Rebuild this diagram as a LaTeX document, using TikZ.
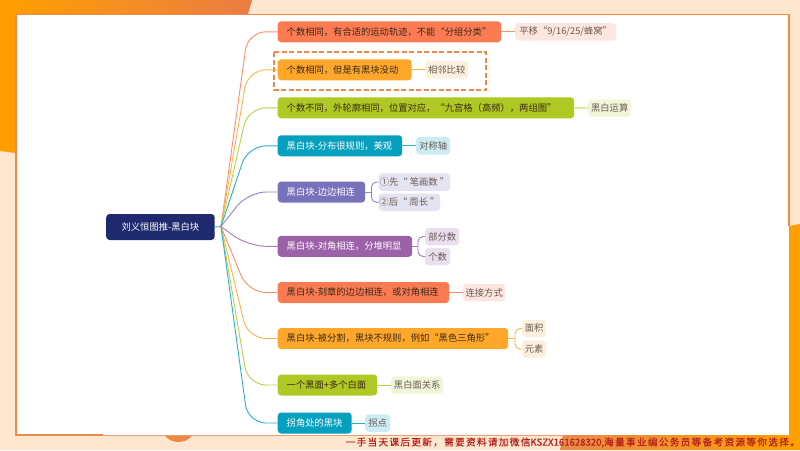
\documentclass[tikz,border=0pt]{standalone}
\usepackage{fontspec}
\setmainfont{Noto Sans CJK SC}
\newfontfamily\bannerfont[LetterSpace=14,FakeBold=0.3]{Noto Sans CJK SC}
\newfontfamily\bannerlatin[FakeBold=0.3]{Noto Sans CJK SC}
\usetikzlibrary{calc}

\definecolor{peach}{HTML}{FFE6CE}
\definecolor{edgeorange}{HTML}{EA8A4C}
\definecolor{navy}{HTML}{1F2A6E}
\definecolor{coral}{HTML}{FC7B52}
\definecolor{amber}{HTML}{FFA72B}
\definecolor{lime}{HTML}{AFC823}
\definecolor{teal}{HTML}{05A0BE}
\definecolor{iris}{HTML}{7872BB}
\definecolor{plum}{HTML}{9C62A8}
\definecolor{coralpale}{HTML}{FDE6DF}
\definecolor{amberpale}{HTML}{FDF0DE}
\definecolor{limepale}{HTML}{F1F6DA}
\definecolor{tealpale}{HTML}{CCECF3}
\definecolor{irispale}{HTML}{E4E3F1}
\definecolor{plumpale}{HTML}{EADFEE}
\definecolor{inkdark}{HTML}{3A2A18}
\definecolor{inkmuted}{HTML}{6A5A52}
\definecolor{bannerred}{HTML}{B5201A}

\tikzset{
  rootbox/.style={fill=navy, text=white, rounded corners=3.5pt, minimum height=26pt, inner sep=0pt, anchor=west},
  mainbox/.style={rounded corners=3.5pt, minimum height=21pt, inner ysep=0pt, inner xsep=9pt, align=left, anchor=west},
  subbox/.style={text=inkmuted, rounded corners=3.5pt, minimum height=17.5pt, inner sep=0pt, anchor=west},
  link/.style={line width=.9pt},
  hublink/.style={link, rounded corners=18pt},
  bracket/.style={link, rounded corners=5pt},
}

\begin{document}
\begin{tikzpicture}[x=1pt,y=-1pt,font=\fontsize{9.3}{11}\selectfont]
  \useasboundingbox (0,0) rectangle (800,450);

  % slide background
  \fill[peach] (0,0) rectangle (800,450);
  \shade[left color=orange!75!yellow, right color=edgeorange!90!red] (0,0) -- (252,0) -- (248,14) -- (16,14) -- (16,153) -- (0,151) -- cycle;
  \shade[left color=edgeorange, right color=orange!75!yellow] (560,450) -- (563,435) -- (633,435) -- (633,433) -- (789,433) -- (789,226) -- (800,224) -- (800,450) -- cycle;
  \fill[edgeorange!90!orange] (178.5,424) circle (18);

  % white panel
  \fill[white] (16,14.5) rectangle (789,435);
  \draw[edgeorange, line width=1.6pt] (103,435) -- (16,435) -- (16,14.5) -- (789,14.5) -- (789,226);
  \draw[edgeorange!80, line width=.8pt] (103,435) -- (563,435);

  % root
  \node[rootbox, minimum width=108.5pt] (root) at (106,227) {刘义恒图推-黑白块};
  \coordinate (hub) at (221,226.5);
  \coordinate (bend) at (248,226.5);

  % first level
  \node[mainbox, fill=coral, text=inkdark, text width=205.5pt] (n1) at (277.5,31.8) {个数相同，有合适的运动轨迹，不能“分组分类”};
  \node[mainbox, fill=amber, text=inkdark, text width=116pt] (n2) at (277.5,69.8) {个数相同，但是有黑块没动};
  \node[mainbox, fill=lime, text=inkdark, text width=278.5pt] (n3) at (277.5,107.8) {个数不同，外轮廓相同，位置对应，“九宫格（高频），两组图”};
  \node[mainbox, fill=teal, text=white, text width=106.5pt] (n4) at (277.5,145.8) {黑白块-分布很规则，美观};
  \node[mainbox, fill=iris, text=white, text width=69.5pt] (n5) at (277.5,192) {黑白块-边边相连};
  \node[mainbox, fill=plum, text=white, text width=116.5pt] (n6) at (277.5,246.3) {黑白块-对角相连，分堆明显};
  \node[mainbox, fill=coral, text=inkdark, text width=153.5pt] (n7) at (277.5,292.5) {黑白块-刻章的边边相连，或对角相连};
  \node[mainbox, fill=amber, text=inkdark, text width=212.5pt] (n8) at (277.5,338.5) {黑白块-被分割，黑块不规则，例如“黑色三角形”};
  \node[mainbox, fill=lime, text=inkdark, text width=81.5pt] (n9) at (277.5,385) {一个黑面+多个白面};
  \node[mainbox, fill=teal, text=white, text width=56pt] (n10) at (277.5,423) {拐角处的黑块};

  % second level
  \node[subbox, fill=coralpale, minimum width=101pt] (s1) at (515,31.8) {平移“9/16/25/蜂窝”};
  \node[subbox, fill=amberpale, minimum width=43pt] (s2) at (425,69.8) {相邻比较};
  \node[subbox, fill=limepale, minimum width=43pt] (s3) at (588,108) {黑白运算};
  \node[subbox, fill=tealpale, minimum width=34pt] (s4) at (416,145.8) {对称轴};
  \node[subbox, fill=irispale, minimum width=71.5pt] (s5a) at (378.5,182) {①先“ 笔画数 ”};
  \node[subbox, fill=irispale, minimum width=61.5pt] (s5b) at (378.5,202.3) {②后“ 周长 ”};
  \node[subbox, fill=plumpale, minimum width=34pt] (s6a) at (425,236.5) {部分数};
  \node[subbox, fill=plumpale, minimum width=25pt] (s6b) at (425,256.5) {个数};
  \node[subbox, fill=coralpale, minimum width=42pt] (s7) at (463,292.5) {连接方式};
  \node[subbox, fill=amberpale, minimum width=24pt] (s8a) at (522,328.5) {面积};
  \node[subbox, fill=amberpale, minimum width=24pt] (s8b) at (522,349) {元素};
  \node[subbox, fill=limepale, minimum width=52pt] (s9) at (391,385) {黑白面关系};
  \node[subbox, fill=tealpale, minimum width=25pt] (s10) at (365,423) {拐点};

  % root to first level
  \foreach \nd/\col in {n1/coral,n2/amber,n3/lime,n4/teal,n5/iris,n6/plum,n7/coral,n8/amber,n9/lime,n10/teal} {
    \draw[hublink, \col!85] (hub) -- (bend |- \nd.west) -- (\nd.west);
  }
  \draw[link, teal!85] (root.east) -- (hub);

  % first level to second level
  \foreach \nd/\sb/\col in {n1/s1/coral,n2/s2/amber,n3/s3/lime,n4/s4/teal,n7/s7/coral,n9/s9/lime,n10/s10/teal} {
    \draw[link, \col!85] (\nd.east) -- (\sb.west);
  }

  % forks
  \coordinate (j5) at (371.5,192);
  \draw[link, iris!85] (n5.east) -- (j5);
  \draw[bracket, iris!85] (s5a.west) -- (j5 |- s5a.west) -- (j5 |- s5b.west) -- (s5b.west);
  \coordinate (j6) at (418,246.3);
  \draw[link, plum!85] (n6.east) -- (j6);
  \draw[bracket, plum!85] (s6a.west) -- (j6 |- s6a.west) -- (j6 |- s6b.west) -- (s6b.west);
  \coordinate (j8) at (515,338.5);
  \draw[link, amber!85] (n8.east) -- (j8);
  \draw[bracket, amber!85] (s8a.west) -- (j8 |- s8a.west) -- (j8 |- s8b.west) -- (s8b.west);

  % dashed frame
  \draw[edgeorange, line width=1.5pt, dash pattern=on 5pt off 2.5pt] (274,52) rectangle (486,90);

  % caption line
  \node[anchor=east, inner sep=0pt, text=bannerred] (banner) at (800,442.5) {\fontsize{9.6}{11}\selectfont\bannerfont 一手当天课后更新，需要资料请加微信{\bannerlatin KSZX161628320,}海量事业编公务员等备考资源等你选择。};
\end{tikzpicture}
\end{document}
